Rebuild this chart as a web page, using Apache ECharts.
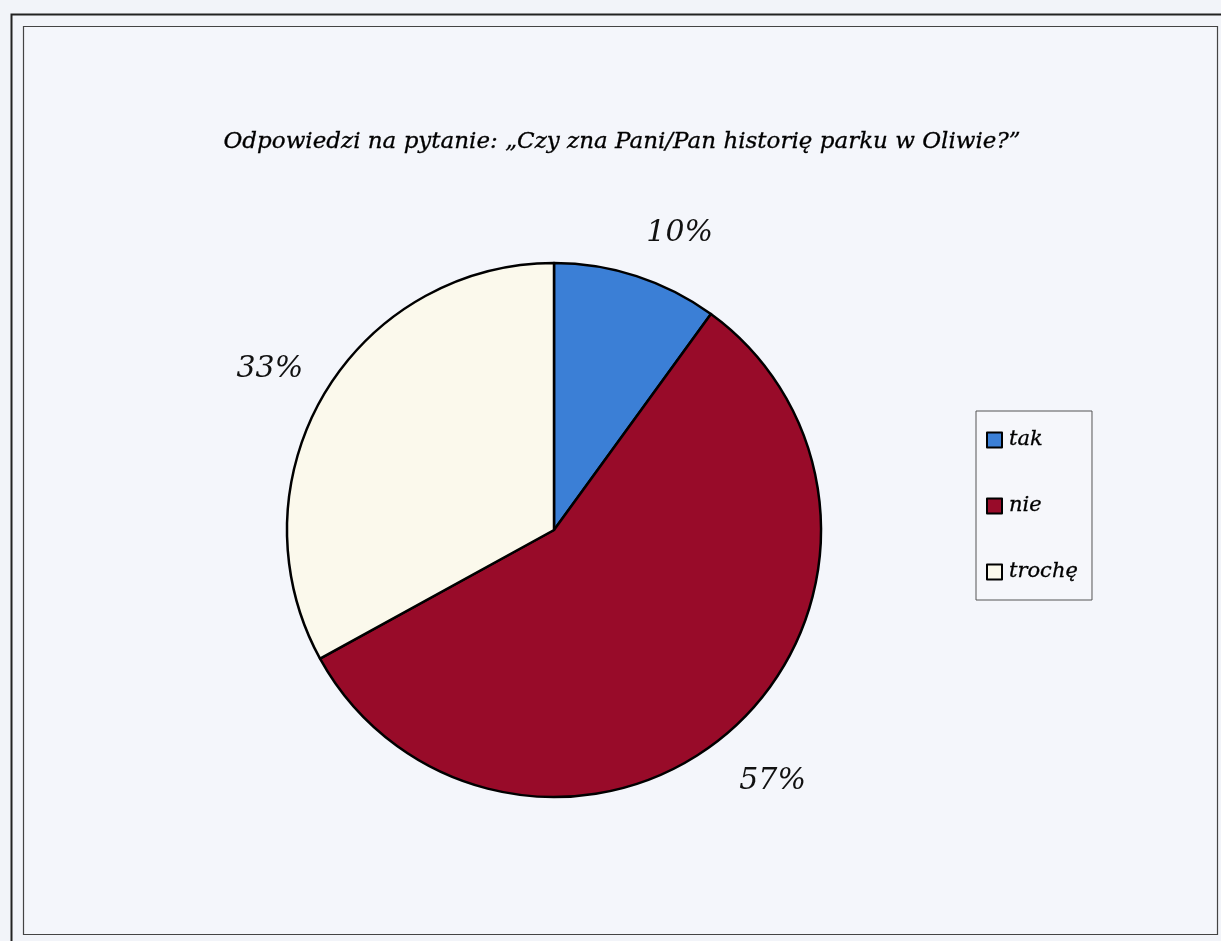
<!DOCTYPE html>
<html>
<head>
<meta charset="utf-8">
<script src="https://cdn.jsdelivr.net/npm/echarts@6/dist/echarts.min.js"></script>
<style>
  html, body { margin: 0; padding: 0; background: #f2f4f9; }
  #chart { width: 1221px; height: 941px; }
</style>
</head>
<body>
<div id="chart"></div>
<script>
const categories = ['tak', 'nie', 'trochę'];
const values = [10, 57, 33];
const colors = ['#3b7fd6', '#980b29', '#fbf9ec'];
const titleText = 'Odpowiedzi na pytanie: „Czy zna Pani/Pan historię parku w Oliwie?”';

const serif = '"DejaVu Serif", "Liberation Serif", serif';
const labelOffsets = { 'tak': [24, 16], 'nie': [1, 4], 'trochę': [-1, 7] };

const chart = echarts.init(document.getElementById('chart'), null, { renderer: 'canvas' });

const pieData = categories.map((c, i) => ({
  name: c,
  value: values[i],
  itemStyle: { color: colors[i] }
}));

const labelData = categories.map((c, i) => ({
  name: c,
  value: values[i],
  label: { offset: labelOffsets[c] }
}));

chart.setOption({
  backgroundColor: '#f2f4f9',
  animation: false,
  title: {
    text: titleText,
    left: 617,
    top: 126,
    textAlign: 'center',
    textStyle: { fontFamily: serif, fontStyle: 'italic', fontWeight: 'normal', fontSize: 23, color: '#000',
      textBorderColor: '#000', textBorderWidth: 0.3 }
  },
  graphic: [
    { type: 'rect', shape: { x: 11.5, y: 14.5, width: 1230, height: 940 }, style: { fill: 'none', stroke: '#222', lineWidth: 2 }, silent: true },
    { type: 'rect', shape: { x: 23.5, y: 26.5, width: 1194, height: 908 }, style: { fill: '#f4f6fb', stroke: '#444', lineWidth: 1.2 }, silent: true, z: -1 }
  ],
  legend: {
    orient: 'vertical',
    left: 976,
    top: 411,
    data: categories,
    icon: 'rect',
    itemWidth: 15,
    itemHeight: 15,
    itemGap: 42,
    padding: [17, 14, 16, 10],
    borderColor: '#555',
    borderWidth: 1,
    backgroundColor: '#f6f7fb',
    selectedMode: false,
    itemStyle: { borderColor: '#000', borderWidth: 2 },
    textStyle: { fontFamily: serif, fontStyle: 'italic', fontSize: 21, color: '#000', lineHeight: 24,
      textBorderColor: '#000', textBorderWidth: 0.3, padding: [0, 0, 0, 2] }
  },
  series: [
    {
      type: 'pie',
      center: [554, 530],
      radius: [0, 267],
      startAngle: 90,
      clockwise: true,
      silent: true,
      label: { show: false },
      labelLine: { show: false },
      itemStyle: { borderColor: '#000', borderWidth: 2.5 },
      data: pieData
    },
    {
      type: 'pie',
      center: [554, 530],
      radius: [0, 652],
      startAngle: 90,
      clockwise: true,
      silent: true,
      legendHoverLink: false,
      itemStyle: { color: 'rgba(0,0,0,0)', borderWidth: 0 },
      label: {
        show: true,
        position: 'inside',
        formatter: '{c}%',
        fontFamily: serif,
        fontStyle: 'italic',
        fontSize: 30,
        color: '#111'
      },
      labelLine: { show: false },
      data: labelData,
      z: 1
    }
  ]
});
</script>
</body>
</html>
